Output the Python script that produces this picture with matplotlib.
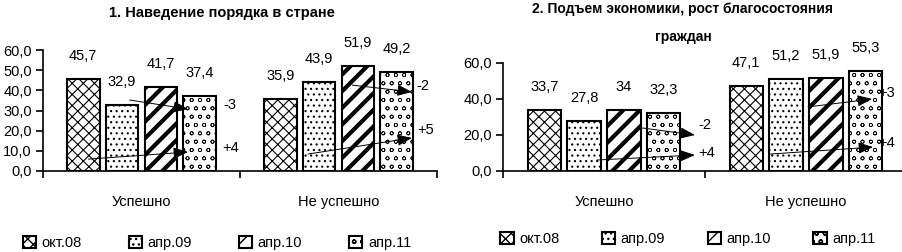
import numpy as np
import matplotlib
matplotlib.use("Agg")
import matplotlib.pyplot as plt

plt.rcParams['font.family'] = ['Liberation Sans', 'DejaVu Sans']

# ---------------------------------------------------------------------------------------
# data
categories = ["Успешно", "Не успешно"]
periods = ["окт.08", "апр.09", "апр.10", "апр.11"]

order_vals = [[45.7, 35.9], [32.9, 43.9], [41.7, 51.9], [37.4, 49.2]]
econ_vals = [[33.7, 47.1], [27.8, 51.2], [34.0, 51.9], [32.3, 55.3]]
econ_labels = [["33,7", "47,1"], ["27,8", "51,2"], ["34", "51,9"], ["32,3", "55,3"]]

title_left = "1. Наведение порядка в стране"
title_right = "2. Подъем экономики, рост благосостояния\n\nграждан"

# change arrows: (x0, y0, x1, y1, label) in data units
order_arrows = [(-0.06, 35.2, 0.236, 30.7, "-3"), (-0.27, 5.9, 0.236, 9.4, "+4"),
                (1.07, 42.6, 1.373, 39.2, "-2"), (0.845, 8.4, 1.373, 16.4, "+5")]
order_arrow_lbl = [(0.45, 32.7), (0.45, 11.4), (1.43, 42.1), (1.44, 20.3)]
econ_arrows = [(0.19, 23.9, 0.45, 20.0, "-2"), (-0.035, 6.1, 0.45, 8.9, "+4"),
               (1.01, 35.6, 1.327, 40.0, "+3"), (0.822, 9.4, 1.332, 13.3, "+4")]
econ_arrow_lbl = [(0.50, 25.6), (0.51, 10.0), (1.40, 43.3), (1.40, 15.6)]

hatches = ["xxx", "...", "//", "oo"]
hatch_lw = [0.8, 0.8, 3.0, 0.5]


def fmt(v):
    return f"{v:.1f}".replace(".", ",")


def draw_panel(ax, vals, labels, yticks, arrows, arrow_lbl):
    x = np.arange(len(categories))
    width = 0.165
    step = 0.197
    for i, p in enumerate(periods):
        bars = ax.bar(x + (i - 1.5) * step, vals[i], width, color="white",
                      edgecolor="black", linewidth=1.5, hatch=hatches[i], label=p)
        for b in bars:
            if hasattr(b, "set_hatch_linewidth"):
                b.set_hatch_linewidth(hatch_lw[i])
        for b, t in zip(bars, labels[i]):
            ax.annotate(t, (b.get_x() + b.get_width() / 2, b.get_height()),
                        xytext=(0, 23), textcoords="offset pixels",
                        ha="center", va="center", fontsize=10.5)

    for (x0, y0, x1, y1, t), (lx, ly) in zip(arrows, arrow_lbl):
        ax.annotate("", xy=(x1, y1), xytext=(x0, y0),
                    arrowprops=dict(arrowstyle="-|>,head_length=0.9,head_width=0.35",
                                    color="black", lw=0.7, shrinkA=0, shrinkB=0))
        ax.text(lx, ly, t, ha="center", va="center", fontsize=10.5)

    ax.set_xlim(-0.5, 1.5)
    ax.set_ylim(0, yticks[-1])
    ax.set_yticks(yticks)
    ax.set_yticklabels([fmt(v) for v in yticks], fontsize=10.5)
    ax.set_xticks([-0.5, 0.5, 1.5])
    ax.set_xticklabels([])
    ax.set_xticks(x, minor=True)
    ax.set_xticklabels(categories, minor=True, fontsize=10.5)
    ax.tick_params(axis="x", which="minor", length=0, pad=17)
    ax.tick_params(axis="both", which="major", direction="out", length=5, width=1.2)
    ax.tick_params(axis="y", pad=3)
    for s in ["top", "right"]:
        ax.spines[s].set_visible(False)
    for s in ["left", "bottom"]:
        ax.spines[s].set_linewidth(1.2)


fig = plt.figure(figsize=(9.02, 2.52), dpi=100)
ax1 = fig.add_axes([43 / 902, 81 / 252, 394 / 902, 121 / 252])
ax2 = fig.add_axes([503 / 902, 81 / 252, 404 / 902, 108 / 252])

order_labels = [[fmt(v) for v in row] for row in order_vals]
draw_panel(ax1, order_vals, order_labels, [0, 10, 20, 30, 40, 50, 60], order_arrows, order_arrow_lbl)
draw_panel(ax2, econ_vals, econ_labels, [0, 20, 40, 60], econ_arrows, econ_arrow_lbl)

for a in (ax1, ax2):
    for t in a.texts:
        t.set_clip_on(False)

fig.text(222 / 902, 1 - 13 / 252, title_left, ha="center", va="center",
         fontsize=10.5, fontweight="bold")
fig.text(683 / 902, 1 - 23.5 / 252, title_right, ha="center", va="center",
         fontsize=10, fontweight="bold", linespacing=1.0)

h1, l1 = ax1.get_legend_handles_labels()
fig.legend(h1, l1, loc="center", bbox_to_anchor=(217 / 902, 1 - 243 / 252), ncol=4,
           frameon=False, fontsize=10.5, handlelength=0.9, handleheight=0.9,
           handletextpad=0.4, columnspacing=3.2)
h2, l2 = ax2.get_legend_handles_labels()
fig.legend(h2, l2, loc="center", bbox_to_anchor=(688 / 902, 1 - 239 / 252), ncol=4,
           frameon=False, fontsize=10.5, handlelength=0.9, handleheight=0.9,
           handletextpad=0.4, columnspacing=2.9)

fig.savefig("out.png", dpi=100)
